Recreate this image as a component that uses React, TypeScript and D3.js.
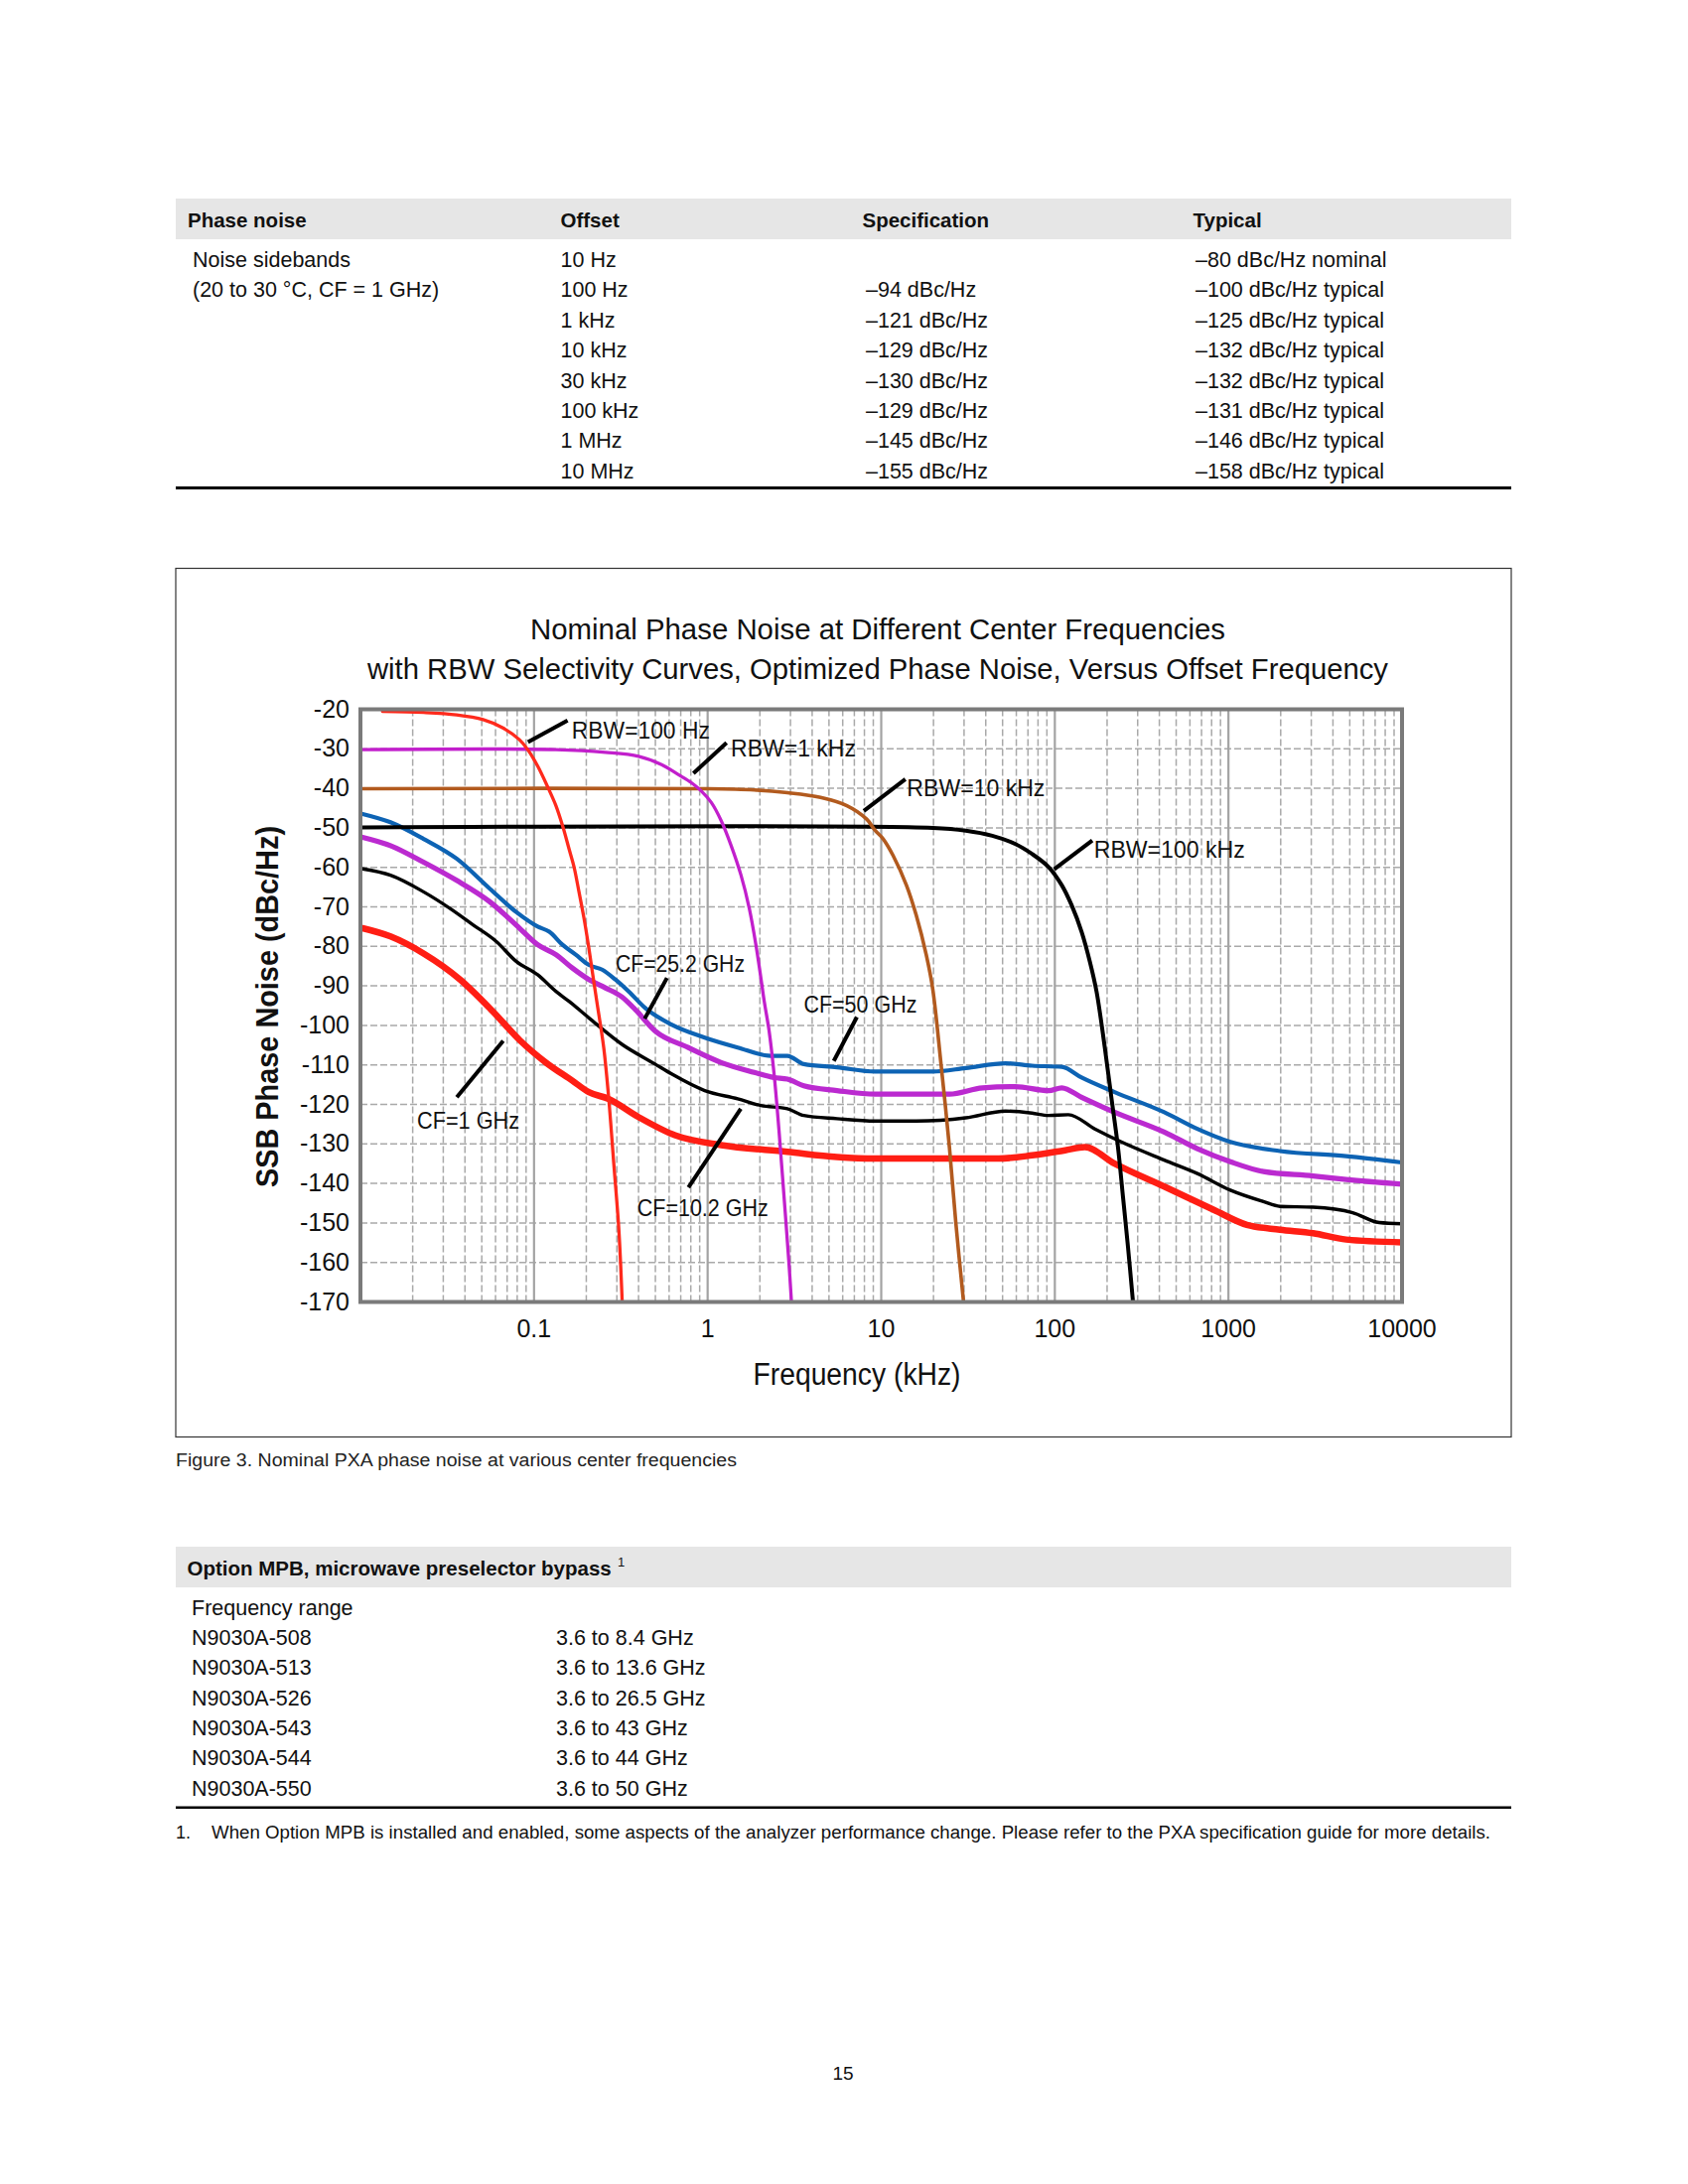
import React from "react"
import * as d3 from "d3"

type Pt = [number, number] // [offset kHz, dBc/Hz]

// ---- spec table (top) ----
const specHeaders = ["Phase noise", "Offset", "Specification", "Typical"]
const specOffsets = ["10 Hz", "100 Hz", "1 kHz", "10 kHz", "30 kHz", "100 kHz", "1 MHz", "10 MHz"]
const specValues = ["", "–94 dBc/Hz", "–121 dBc/Hz", "–129 dBc/Hz", "–130 dBc/Hz", "–129 dBc/Hz", "–145 dBc/Hz", "–155 dBc/Hz"]
const specTypical = [
  "–80 dBc/Hz nominal",
  "–100 dBc/Hz typical",
  "–125 dBc/Hz typical",
  "–132 dBc/Hz typical",
  "–132 dBc/Hz typical",
  "–131 dBc/Hz typical",
  "–146 dBc/Hz typical",
  "–158 dBc/Hz typical",
]
const specLabel = ["Noise sidebands", "(20 to 30 °C, CF = 1 GHz)"]

// ---- option MPB table (bottom) ----
const mpbModels = ["N9030A-508", "N9030A-513", "N9030A-526", "N9030A-543", "N9030A-544", "N9030A-550"]
const mpbRanges = ["3.6 to 8.4 GHz", "3.6 to 13.6 GHz", "3.6 to 26.5 GHz", "3.6 to 43 GHz", "3.6 to 44 GHz", "3.6 to 50 GHz"]

// ---- chart ----
const xTickValues = [0.1, 1, 10, 100, 1000, 10000]
const yTickValues = [-20, -30, -40, -50, -60, -70, -80, -90, -100, -110, -120, -130, -140, -150, -160, -170]

// RBW selectivity curves
const rbw100Hz: Pt[] = [
  [0.0134, -20.5], [0.0231, -20.8], [0.0358, -21.4], [0.0509, -22.6], [0.0662, -24.7], [0.0824, -27.7],
  [0.092, -30.2], [0.105, -34.4], [0.1197, -39.6], [0.1337, -44.4], [0.147, -49.9], [0.159, -55.3],
  [0.17, -59.9], [0.1815, -66.2], [0.194, -72.9], [0.207, -80.5], [0.218, -87.2], [0.23, -94],
  [0.252, -105.6], [0.269, -118.2], [0.288, -135], [0.308, -151.7], [0.322, -170],
]
const rbw1kHz: Pt[] = [
  [0.0103, -30.2], [0.1337, -30.2], [0.258, -30.9], [0.4, -31.9], [0.543, -34], [0.676, -36.5],
  [0.807, -38.6], [0.92, -40.7], [1.05, -43.6], [1.197, -48.2], [1.366, -54.5], [1.557, -62],
  [1.738, -70.4], [1.897, -79.6], [2.027, -88], [2.12, -94], [2.26, -101.4], [2.414, -112.3],
  [2.577, -126.6], [2.754, -143.3], [2.94, -160.1], [3.04, -170],
]
const rbw10kHz: Pt[] = [
  [0.0103, -40.1], [1.0, -40.1], [1.856, -40.4], [2.88, -41.1], [4.47, -42.3], [6.34, -44.4],
  [8.24, -47.8], [9.24, -50.7], [10.26, -52.8], [11.7, -57], [13.96, -64.5], [15.9, -72.1],
  [18.2, -82.3], [19.8, -90.8], [22.1, -109.8], [24.7, -130.8], [26.9, -150], [29.8, -170],
]
const rbw100kHz: Pt[] = [
  [0.0103, -49.9], [19.8, -50], [30.7, -50.7], [43.6, -52], [59.3, -54.1], [73.9, -56.6],
  [92, -59.9], [109.6, -64.5], [125, -69.6], [142.6, -76.3], [159, -83.8], [173.8, -91.4],
  [194, -105.6], [211.6, -118.2], [231, -130.8], [246.8, -143.3], [263.6, -155.9], [282, -170],
]

// phase noise at center frequencies
const cf50GHz: Pt[] = [
  [0.0103, -46.5], [0.0149, -48.6], [0.0231, -52.8], [0.0358, -57.8], [0.0556, -65.4], [0.0789, -71.3],
  [0.105, -75], [0.1224, -76.3], [0.1458, -79.6], [0.1738, -82.1], [0.207, -84.7], [0.2468, -85.9],
  [0.294, -88.4], [0.351, -91.4], [0.437, -95.6], [0.62, -99.8], [0.962, -103.1], [1.49, -105.6],
  [2.31, -107.7], [2.88, -107.7], [3.58, -109.8], [5.56, -110.6], [9.24, -111.7], [19.8, -111.7],
  [30.7, -110.8], [52, -109.6], [73.9, -110.2], [109.6, -110.5], [142.6, -113.2], [221, -116.9],
  [427, -122], [662, -126.2], [1026, -129.5], [1982, -131.8], [4764, -133.1], [10000, -134.7],
]
const cf25GHz: Pt[] = [
  [0.0103, -52.4], [0.0149, -54.5], [0.0231, -58.7], [0.0358, -63.3], [0.0556, -68.7], [0.0789, -74.6],
  [0.105, -79.6], [0.1337, -82.1], [0.1663, -85.5], [0.207, -88.4], [0.2576, -90.5], [0.321, -92.8],
  [0.383, -96], [0.498, -101.4], [0.772, -105.6], [1.197, -109.4], [1.856, -111.9], [2.414, -113.2],
  [2.88, -113.6], [3.58, -115.3], [5.56, -116.5], [9.24, -117.4], [24.7, -117.4], [38.3, -115.8],
  [59.3, -115.5], [92, -116.5], [109.6, -115.8], [142.6, -118.2], [221, -122], [427, -127],
  [662, -131.2], [1026, -134.5], [1592, -137], [3076, -138.1], [4764, -139], [10000, -140.2],
]
const cf10GHz: Pt[] = [
  [0.0103, -60.4], [0.0149, -62], [0.0231, -66.2], [0.0328, -70.4], [0.0447, -74.6], [0.0607, -78.8],
  [0.0789, -83.8], [0.105, -87.2], [0.1337, -91.4], [0.159, -93.9], [0.207, -98.1], [0.321, -104.8],
  [0.498, -109.8], [0.62, -112.3], [0.962, -116.5], [1.49, -118.6], [2.03, -120.3], [2.88, -121.1],
  [3.58, -122.8], [5.56, -123.6], [9.24, -124.2], [15.9, -124.2], [30.7, -123.4], [52, -121.7],
  [73.9, -122.2], [92, -122.8], [119.7, -122.6], [170, -126.2], [241.5, -129.5], [427, -134.1],
  [662, -137.5], [1026, -141.7], [1592, -144.6], [1982, -145.8], [3076, -146], [5200, -147.4],
  [7390, -149.9], [10000, -150.2],
]
const cf1GHz: Pt[] = [
  [0.0103, -75.4], [0.0149, -77.5], [0.0231, -81.8], [0.0375, -88.4], [0.058, -96.5], [0.0829, -103.8],
  [0.117, -109.4], [0.1663, -114], [0.207, -116.9], [0.269, -118.6], [0.4, -123.2], [0.648, -127.8],
  [1.197, -130.3], [2.88, -132], [5.56, -133.3], [9.24, -133.7], [47.6, -133.7], [73.9, -132.9],
  [114.6, -131.6], [149, -130.8], [221, -135], [427, -140.8], [824, -146.7], [1278, -150.5],
  [1982, -151.7], [3076, -152.6], [4764, -154.2], [10000, -154.9],
]

// annotations: leader line from -> to (data coords), label starts at text point
const annotations = [
  { label: "RBW=100 Hz", from: [0.0923, -28.3], to: [0.156, -22.8], text: [0.165, -25.2], len: 139 },
  { label: "RBW=1 kHz", from: [0.828, -36.2], to: [1.285, -28.5], text: [1.36, -29.8], len: 126 },
  { label: "RBW=10 kHz", from: [7.94, -45.7], to: [13.77, -37.7], text: [14.06, -39.8], len: 139 },
  { label: "RBW=100 kHz", from: [99.1, -60.5], to: [164.3, -53.2], text: [168, -55.5], len: 152 },
  { label: "CF=25.2 GHz", from: [0.434, -98.3], to: [0.583, -88.0], text: [0.295, -84.2], len: 130 },
  { label: "CF=50 GHz", from: [5.33, -109], to: [7.24, -97.9], text: [3.575, -94.7], len: 114 },
  { label: "CF=1 GHz", from: [0.0359, -118.2], to: [0.0664, -103.9], text: [0.0212, -124.1], len: 103 },
  { label: "CF=10.2 GHz", from: [0.775, -141], to: [1.552, -121.1], text: [0.393, -146], len: 132 },
]

const FONT = "'Liberation Sans', Arial, Helvetica, sans-serif"
const plot = { left: 363, right: 1412, top: 714.5, bottom: 1311.5 }

export default function App() {
  const x = d3.scaleLog().domain([0.01, 10000]).range([plot.left, plot.right])
  const y = d3.scaleLinear().domain([-170, -20]).range([plot.bottom, plot.top])
  const cfLine = d3
    .line<Pt>()
    .x((d) => x(d[0]))
    .y((d) => y(d[1]))
    .curve(d3.curveMonotoneX)
  // selectivity curves turn almost vertical, catmull-rom keeps them smooth
  const rbwLine = d3
    .line<Pt>()
    .x((d) => x(d[0]))
    .y((d) => y(d[1]))
    .curve(d3.curveCatmullRom.alpha(0.5))

  // grid positions
  const minorX: number[] = []
  for (let e = -2; e <= 3; e++) {
    for (let k = 2; k <= 9; k++) minorX.push(k * Math.pow(10, e))
  }
  const decadeX = [0.1, 1, 10, 100, 1000]
  const gridY = yTickValues.filter((v) => v !== -20 && v !== -170)

  const cfSeries = [
    { d: cf1GHz, color: "#ff1e14", w: 6.5 },
    { d: cf10GHz, color: "#000000", w: 3.4 },
    { d: cf25GHz, color: "#bb2ad0", w: 5.2 },
    { d: cf50GHz, color: "#0d63b4", w: 4.2 },
  ]
  const rbwSeries = [
    { d: rbw100kHz, color: "#000000", w: 4 },
    { d: rbw10kHz, color: "#b25a1e", w: 3.6 },
    { d: rbw1kHz, color: "#c21fcc", w: 3.3 },
    { d: rbw100Hz, color: "#ff2a1c", w: 3.3 },
  ]

  const rowY0 = 269
  const rowStep = 30.4
  const mpbY0 = 1656.7

  return (
    <svg
      width={1700}
      height={2200}
      style={{ position: "absolute", left: 0, top: 0, background: "#fff" }}
      fontFamily={FONT}
    >
      <rect x={0} y={0} width={1700} height={2200} fill="#fff" />

      {/* top spec table */}
      <rect x={177} y={200} width={1345} height={41} fill="#e6e6e6" />
      {specHeaders.map((h, i) => (
        <text key={h} x={[189, 564.5, 868.5, 1201.5][i]} y={228.5} fontSize={20.5} fontWeight="bold" fill="#111">
          {h}
        </text>
      ))}
      {specLabel.map((t, i) => (
        <text key={t} x={194} y={rowY0 + i * rowStep} fontSize={21.5} fill="#111">
          {t}
        </text>
      ))}
      {specOffsets.map((t, i) => (
        <g key={t} fontSize={21.5} fill="#111">
          <text x={564.5} y={rowY0 + i * rowStep}>{t}</text>
          <text x={872} y={rowY0 + i * rowStep}>{specValues[i]}</text>
          <text x={1204} y={rowY0 + i * rowStep}>{specTypical[i]}</text>
        </g>
      ))}
      <line x1={177} x2={1522} y1={491.5} y2={491.5} stroke="#000" strokeWidth={3} />

      {/* chart frame */}
      <rect x={177} y={572.5} width={1345} height={875} fill="none" stroke="#333" strokeWidth={1.2} />
      <text x={884} y={643.5} fontSize={30} textAnchor="middle" textLength={700} lengthAdjust="spacingAndGlyphs" fill="#111">
        Nominal Phase Noise at Different Center Frequencies
      </text>
      <text x={884} y={683.5} fontSize={30} textAnchor="middle" textLength={1028} lengthAdjust="spacingAndGlyphs" fill="#111">
        with RBW Selectivity Curves, Optimized Phase Noise, Versus Offset Frequency
      </text>

      <defs>
        <clipPath id="plotClip">
          <rect x={plot.left} y={plot.top} width={plot.right - plot.left} height={plot.bottom - plot.top} />
        </clipPath>
      </defs>

      {/* grid */}
      <g stroke="#a9a9a9" strokeWidth={1.5} strokeDasharray="7,3">
        {minorX.map((v) => (
          <line key={"mx" + v} x1={x(v)} x2={x(v)} y1={plot.top} y2={plot.bottom} />
        ))}
        {gridY.map((v) => (
          <line key={"gy" + v} x1={plot.left} x2={plot.right} y1={y(v)} y2={y(v)} />
        ))}
      </g>
      <g stroke="#a3a3a3" strokeWidth={2.2}>
        {decadeX.map((v) => (
          <line key={"dx" + v} x1={x(v)} x2={x(v)} y1={plot.top} y2={plot.bottom} />
        ))}
      </g>

      {/* curves */}
      <g clipPath="url(#plotClip)" fill="none" strokeLinejoin="round" strokeLinecap="round">
        {cfSeries.map((s, i) => (
          <path key={"cf" + i} d={cfLine(s.d) || ""} stroke={s.color} strokeWidth={s.w} />
        ))}
        {rbwSeries.map((s, i) => (
          <path key={"rbw" + i} d={rbwLine(s.d) || ""} stroke={s.color} strokeWidth={s.w} />
        ))}
      </g>

      {/* annotations */}
      {annotations.map((a) => (
        <g key={a.label}>
          <line
            x1={x(a.from[0])}
            y1={y(a.from[1])}
            x2={x(a.to[0])}
            y2={y(a.to[1])}
            stroke="#000"
            strokeWidth={4}
          />
          <text
            x={x(a.text[0])}
            y={y(a.text[1])}
            dy="0.36em"
            fontSize={24}
            textLength={a.len}
            lengthAdjust="spacingAndGlyphs"
            fill="#111"
          >
            {a.label}
          </text>
        </g>
      ))}

      {/* plot border */}
      <rect
        x={plot.left}
        y={plot.top}
        width={plot.right - plot.left}
        height={plot.bottom - plot.top}
        fill="none"
        stroke="#7a7a7a"
        strokeWidth={4}
      />

      {/* axes labels */}
      {yTickValues.map((v) => (
        <text key={"yt" + v} x={352} y={y(v)} dy="0.32em" fontSize={25} textAnchor="end" fill="#111">
          {v}
        </text>
      ))}
      {xTickValues.map((v) => (
        <text key={"xt" + v} x={x(v)} y={1346.5} fontSize={25} textAnchor="middle" fill="#111">
          {v}
        </text>
      ))}
      <text x={863} y={1395} fontSize={31} textAnchor="middle" textLength={209} lengthAdjust="spacingAndGlyphs" fill="#111">
        Frequency (kHz)
      </text>
      <text
        transform="translate(280,1014) rotate(-90)"
        fontSize={31}
        fontWeight="bold"
        textAnchor="middle"
        textLength={364}
        lengthAdjust="spacingAndGlyphs"
        fill="#111"
      >
        SSB Phase Noise (dBc/Hz)
      </text>

      <text x={177} y={1477} fontSize={18} textLength={565} lengthAdjust="spacingAndGlyphs" fill="#222">
        Figure 3. Nominal PXA phase noise at various center frequencies
      </text>

      {/* option MPB table */}
      <rect x={177} y={1558} width={1345} height={41} fill="#e6e6e6" />
      <text x={188.5} y={1587} fontSize={20.5} fontWeight="bold" fill="#111">
        Option MPB, microwave preselector bypass
      </text>
      <text x={622} y={1578} fontSize={13} fill="#111">
        1
      </text>
      <text x={193} y={1626.7} fontSize={21.5} fill="#111">
        Frequency range
      </text>
      {mpbModels.map((m, i) => (
        <g key={m} fontSize={21.5} fill="#111">
          <text x={193} y={mpbY0 + i * rowStep}>{m}</text>
          <text x={560} y={mpbY0 + i * rowStep}>{mpbRanges[i]}</text>
        </g>
      ))}
      <line x1={177} x2={1522} y1={1820.7} y2={1820.7} stroke="#000" strokeWidth={2.4} />
      <text x={177} y={1851.7} fontSize={18} fill="#111">
        1.
      </text>
      <text x={213} y={1851.7} fontSize={18} textLength={1288} lengthAdjust="spacingAndGlyphs" fill="#111">
        When Option MPB is installed and enabled, some aspects of the analyzer performance change. Please refer to the PXA specification guide for more details.
      </text>

      <text x={849} y={2095} fontSize={19} textAnchor="middle" fill="#111">
        15
      </text>
    </svg>
  )
}
